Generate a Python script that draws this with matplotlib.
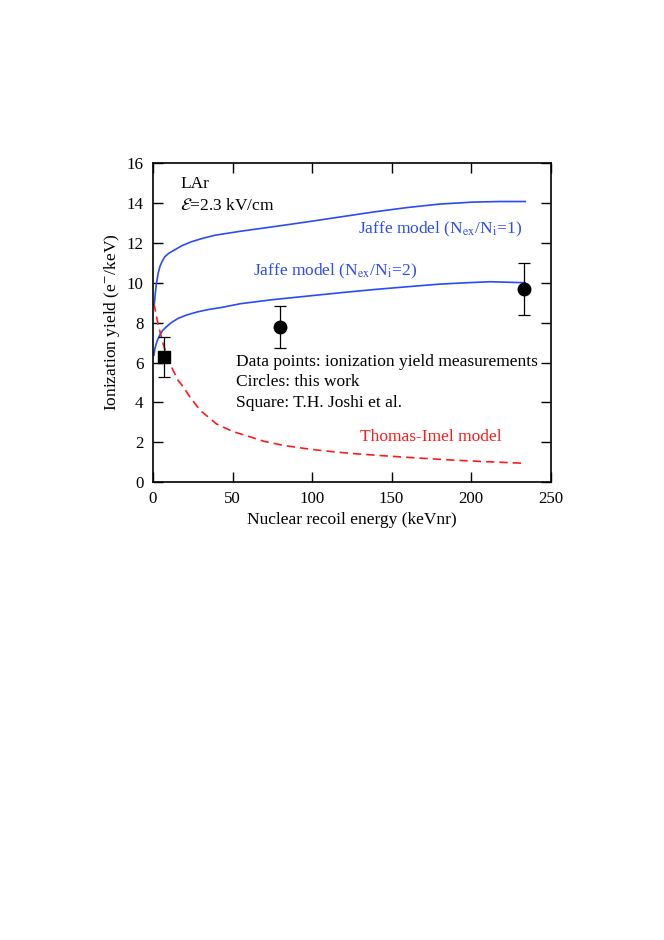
import numpy as np
import matplotlib
matplotlib.use('Agg')
import matplotlib.pyplot as plt

plt.rcParams['font.family'] = ['Liberation Serif', 'DejaVu Serif']
plt.rcParams['mathtext.fontset'] = 'stix'

# Jaffe model, N_ex/N_i = 1
j1_x = [0.8, 1.5, 2.2, 3.2, 4.3, 5.8, 7.4, 10, 13.7, 18, 24, 31, 39, 55, 75, 97,
        118, 139, 160, 180, 201, 218, 234]
j1_y = [8.9, 9.5, 9.97, 10.45, 10.8, 11.08, 11.3, 11.48, 11.65, 11.85, 12.05, 12.22,
        12.38, 12.58, 12.8, 13.05, 13.3, 13.55, 13.77, 13.94, 14.04, 14.07, 14.07]

# Jaffe model, N_ex/N_i = 2
j2_x = [0.6, 1.2, 2.1, 3.1, 4.2, 6, 8.4, 11.5, 15.7, 21, 28, 35, 43, 55, 75, 97,
        118, 139, 160, 180, 200, 212, 234]
j2_y = [6.37, 6.7, 6.96, 7.18, 7.37, 7.6, 7.79, 8.0, 8.21, 8.38, 8.54, 8.66, 8.76,
        8.95, 9.15, 9.33, 9.5, 9.66, 9.8, 9.93, 10.01, 10.05, 10.0]

# Thomas-Imel model
ti_x = [0.6, 3.1, 6.3, 10.5, 15.7, 19, 23.1, 29.5, 35, 40, 50, 61, 70, 82, 95, 107,
        124, 145, 166, 187, 208, 234]
ti_y = [8.96, 7.96, 6.96, 5.96, 5.12, 4.79, 4.29, 3.62, 3.25, 2.92, 2.55, 2.28, 2.05,
        1.85, 1.7, 1.58, 1.45, 1.33, 1.22, 1.12, 1.04, 0.95]

# measurements
circ_x = [80.0, 233.2]
circ_y = [7.8, 9.7]
circ_err = [1.05, 1.3]
sq_x = [6.7]
sq_y = [6.3]
sq_err = [1.0]

blue = '#2a4cf5'
red = '#ff1a1a'

fig = plt.figure(figsize=(6.64, 9.4), dpi=100)
ax = fig.add_axes([0.2304, 0.4869, 0.599, 0.3397])

ax.plot(j1_x, j1_y, color=blue, lw=1.2)
ax.plot(j2_x, j2_y, color=blue, lw=1.2)
ax.plot(ti_x, ti_y, color=red, lw=1.2, dashes=(5, 3))

ax.errorbar(circ_x, circ_y, yerr=circ_err, fmt='o', color='black', ms=9,
            capsize=4, elinewidth=0.9, capthick=0.9)
ax.errorbar(sq_x, sq_y, yerr=sq_err, fmt='s', color='black', ms=9,
            capsize=4, elinewidth=0.9, capthick=0.9)

fs = 12.5
ax.text(17, 14.94, 'LAr', fontsize=fs, va='center')
ax.text(17, 13.84, r'$\mathcal{E}$=2.3 kV/cm', fontsize=fs, va='center')
ax.text(129.1, 12.65, r'Jaffe model (N$_{\rm ex}$/N$_{\rm i}$=1)', fontsize=fs,
        va='center', color=blue)
ax.text(63, 10.55, r'Jaffe model (N$_{\rm ex}$/N$_{\rm i}$=2)', fontsize=fs,
        va='center', color=blue)
ax.text(52.2, 6.04, 'Data points: ionization yield measurements', fontsize=fs, va='center')
ax.text(52.2, 5.04, 'Circles: this work', fontsize=fs, va='center')
ax.text(52.2, 3.96, 'Square: T.H. Joshi et al.', fontsize=fs, va='center')
ax.text(130.1, 2.25, 'Thomas-Imel model', fontsize=fs, va='center', color=red)

ax.set_xlim(0, 250)
ax.set_ylim(0, 16)
ax.set_xticks(np.arange(0, 251, 50))
ax.set_yticks(np.arange(0, 17, 2))
ax.tick_params(direction='in', top=True, right=True, length=7, width=1,
               labelsize=12.2)
ax.tick_params(axis='x', pad=6)
ax.tick_params(axis='y', pad=7)
for s in ax.spines.values():
    s.set_linewidth(1.2)

ax.set_xlabel('Nuclear recoil energy (keVnr)', fontsize=fs, labelpad=4)
ax.set_ylabel(r'Ionization yield (e$^{-}$/keV)', fontsize=fs, labelpad=3)

fig.savefig('out.png', dpi=100)
